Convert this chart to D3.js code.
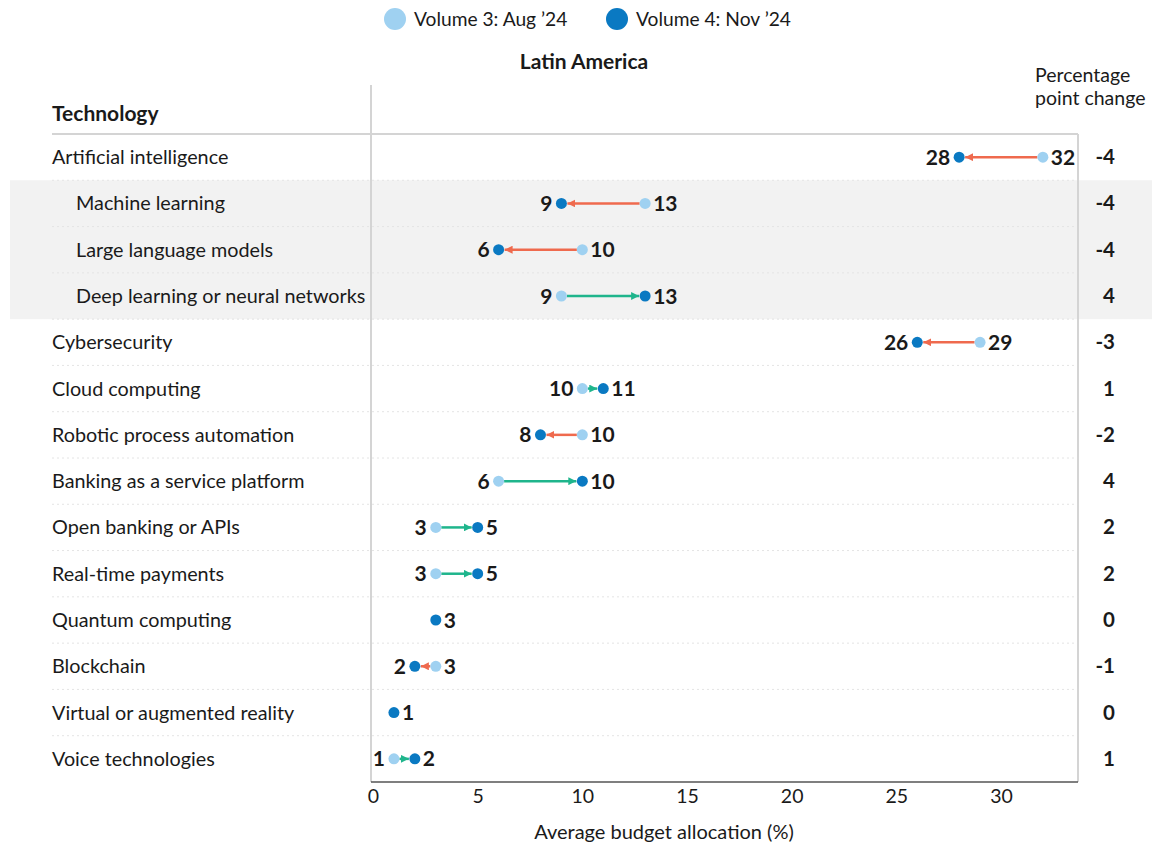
<!DOCTYPE html>
<html>
<head>
<meta charset="utf-8">
<script src="https://cdn.jsdelivr.net/npm/d3@7"></script>
<style>
  html, body { margin: 0; padding: 0; background: #fff; }
  svg { display: block; font-family: Lato, "Open Sans", sans-serif; }
</style>
</head>
<body>
<svg id="chart" width="1152" height="845"></svg>
<script>
// Technologies, in display order; sub-items of AI are indented
const technologies = [
  "Artificial intelligence", "Machine learning", "Large language models",
  "Deep learning or neural networks", "Cybersecurity", "Cloud computing",
  "Robotic process automation", "Banking as a service platform",
  "Open banking or APIs", "Real-time payments", "Quantum computing",
  "Blockchain", "Virtual or augmented reality", "Voice technologies"
];
const subItems = ["Machine learning", "Large language models", "Deep learning or neural networks"];

// Average budget allocation (%)
const volume3Aug = [32, 13, 10, 9, 29, 10, 10, 6, 3, 3, 3, 3, 1, 1];
const volume4Nov = [28, 9, 6, 13, 26, 11, 8, 10, 5, 5, 3, 2, 1, 2];

const xTicks = [0, 5, 10, 15, 20, 25, 30];
const seriesNames = ["Volume 3: Aug \u201924", "Volume 4: Nov \u201924"];

const colAug = "#9fd1f1";
const colNov = "#0a79c2";
const colDown = "#ef6a4e";
const colUp = "#1fb58c";
const textCol = "#1a1a1a";

const svg = d3.select("#chart");

const frameLeft = 371, frameRight = 1078, frameTop = 134, frameBottom = 782;

const x = d3.scaleLinear().domain([0, 30]).range([373, 1001]);
const y = d3.scaleBand().domain(technologies).range([frameTop, frameBottom]).padding(0);

const rows = technologies.map((t, i) => ({
  name: t, aug: volume3Aug[i], nov: volume4Nov[i], change: volume4Nov[i] - volume3Aug[i]
}));

// Shaded band behind the AI sub-categories
const bandTop = y(subItems[0]);
const bandBottom = y(subItems[subItems.length - 1]) + y.bandwidth();
svg.append("rect")
  .attr("x", 10).attr("y", bandTop)
  .attr("width", 1152 - 10).attr("height", bandBottom - bandTop)
  .attr("fill", "#f2f2f2");

// Dotted row separators
svg.append("g").selectAll("line")
  .data(technologies.slice(1))
  .join("line")
  .attr("x1", 52).attr("x2", frameRight)
  .attr("y1", d => y(d)).attr("y2", d => y(d))
  .attr("stroke", "#e4e4e4").attr("stroke-width", 1)
  .attr("stroke-dasharray", "2,3");

// Frame lines
svg.append("line").attr("x1", 52).attr("x2", frameRight).attr("y1", frameTop).attr("y2", frameTop)
  .attr("stroke", "#d4d4d4").attr("stroke-width", 2);
svg.append("line").attr("x1", frameLeft).attr("x2", frameLeft).attr("y1", 85).attr("y2", frameBottom)
  .attr("stroke", "#d4d4d4").attr("stroke-width", 2);
svg.append("line").attr("x1", frameRight).attr("x2", frameRight).attr("y1", frameTop).attr("y2", frameBottom)
  .attr("stroke", "#d4d4d4").attr("stroke-width", 2);

// X axis
const xAxis = d3.axisBottom(x).tickValues(xTicks).tickSize(0).tickPadding(0);
const gx = svg.append("g").attr("transform", `translate(0,${frameBottom})`).call(xAxis);
gx.select(".domain").remove();
gx.selectAll("text")
  .attr("dy", null).attr("y", 21)
  .attr("font-family", "Lato, 'Open Sans', sans-serif")
  .attr("font-size", 19.5).attr("fill", textCol);
svg.append("line").attr("x1", frameLeft).attr("x2", frameRight).attr("y1", frameBottom).attr("y2", frameBottom)
  .attr("stroke", "#555").attr("stroke-width", 1.5);

svg.append("text").attr("x", 664).attr("y", 839).attr("text-anchor", "middle")
  .attr("font-size", 20).attr("fill", textCol).text("Average budget allocation (%)");

// Legend
const legend = svg.append("g");
[[395, seriesNames[0], colAug], [617, seriesNames[1], colNov]].forEach(([cx, label, c]) => {
  legend.append("circle").attr("cx", cx).attr("cy", 19).attr("r", 11).attr("fill", c);
  legend.append("text").attr("x", cx + 19).attr("y", 26).attr("font-size", 19.2)
    .attr("fill", textCol).text(label);
});

// Titles
svg.append("text").attr("x", 584).attr("y", 69).attr("text-anchor", "middle")
  .attr("font-size", 21).attr("font-weight", 700).attr("fill", textCol).text("Latin America");
svg.append("text").attr("x", 52).attr("y", 121)
  .attr("font-size", 21).attr("font-weight", 700).attr("fill", textCol).text("Technology");
const pp = svg.append("text").attr("x", 1035).attr("font-size", 19.5).attr("fill", textCol);
pp.append("tspan").attr("x", 1035).attr("y", 82).text("Percentage");
pp.append("tspan").attr("x", 1035).attr("y", 105).text("point change");

// Row labels
svg.append("g").selectAll("text")
  .data(rows).join("text")
  .attr("x", d => subItems.includes(d.name) ? 76 : 52)
  .attr("y", d => y(d.name) + y.bandwidth() / 2 + 7)
  .attr("font-size", 19.8).attr("fill", textCol)
  .text(d => d.name);

// Percentage point change column
svg.append("g").selectAll("text")
  .data(rows).join("text")
  .attr("x", 1115)
  .attr("y", d => y(d.name) + y.bandwidth() / 2 + 7)
  .attr("text-anchor", "end")
  .attr("font-size", 20.5).attr("font-weight", 700).attr("fill", textCol)
  .text(d => d.change);

// Arrowhead markers
const defs = svg.append("defs");
[["arrowUp", colUp], ["arrowDown", colDown]].forEach(([id, c]) => {
  defs.append("marker").attr("id", id)
    .attr("viewBox", "0 0 10 10").attr("refX", 10).attr("refY", 5)
    .attr("markerUnits", "userSpaceOnUse")
    .attr("markerWidth", 8).attr("markerHeight", 8).attr("orient", "auto")
    .append("path").attr("d", "M0,0 L10,5 L0,10 Z").attr("fill", c);
});

const r = 5.5;
const marks = svg.append("g");
rows.forEach(d => {
  const cy = y(d.name) + y.bandwidth() / 2;
  const xa = x(d.aug), xn = x(d.nov);
  const dir = Math.sign(xn - xa);
  if (dir !== 0) {
    marks.append("line")
      .attr("x1", xa + dir * r).attr("x2", xn - dir * (r + 0.5))
      .attr("y1", cy).attr("y2", cy)
      .attr("stroke", dir > 0 ? colUp : colDown).attr("stroke-width", 2.5)
      .attr("marker-end", `url(#${dir > 0 ? "arrowUp" : "arrowDown"})`);
    marks.append("circle").attr("cx", xa).attr("cy", cy).attr("r", r).attr("fill", colAug);
  }
  marks.append("circle").attr("cx", xn).attr("cy", cy).attr("r", r).attr("fill", colNov);

  const lo = Math.min(d.aug, d.nov), hi = Math.max(d.aug, d.nov);
  if (dir !== 0) {
    marks.append("text").attr("x", x(lo) - 9).attr("y", cy + 7.5)
      .attr("text-anchor", "end").attr("font-size", 21).attr("font-weight", 700)
      .attr("fill", textCol).text(lo);
  }
  marks.append("text").attr("x", x(hi) + 8).attr("y", cy + 7.5)
    .attr("text-anchor", "start").attr("font-size", 21).attr("font-weight", 700)
    .attr("fill", textCol).text(hi);
});
</script>
</body>
</html>
